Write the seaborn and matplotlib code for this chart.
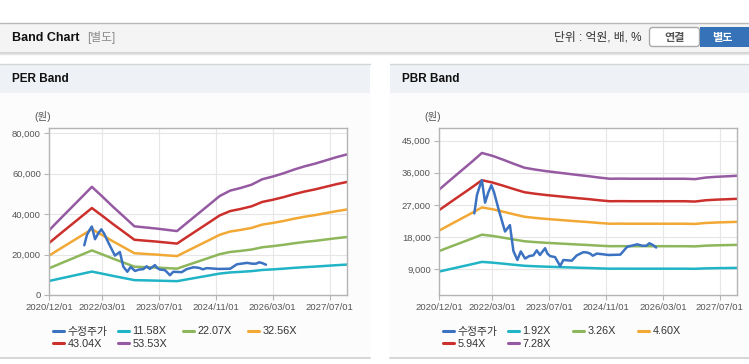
import matplotlib
matplotlib.use("Agg")
import matplotlib.pyplot as plt
from matplotlib.patches import Rectangle, FancyBboxPatch
from matplotlib.lines import Line2D
from matplotlib.legend import Legend
from matplotlib.ticker import FuncFormatter
import matplotlib.dates as mdates
import numpy as np
import pandas as pd
import seaborn as sns

# ---- data ----
band_dates = ['2020-12-01', '2021-03-01', '2021-06-01', '2021-09-01', '2021-12-01',
              '2022-03-01', '2022-06-01', '2022-09-01', '2022-12-01', '2023-03-01',
              '2023-06-01', '2023-09-01', '2023-12-01', '2024-03-01', '2024-06-01',
              '2024-09-01', '2024-12-01', '2025-03-01', '2025-06-01', '2025-09-01',
              '2025-12-01', '2026-03-01', '2026-06-01', '2026-09-01', '2026-12-01',
              '2027-03-01', '2027-06-01', '2027-09-01', '2027-11-28']
# EPS (원) behind the PER band
eps = [600, 700, 800, 900, 1000,
       910, 815, 725, 635, 625,
       615, 603, 591, 672, 753,
       834, 915, 965, 990, 1020,
       1070, 1095, 1125, 1160, 1190,
       1215, 1245, 1275, 1300]
# BPS (원) behind the PBR band
bps = [4300, 4650, 5000, 5350, 5710,
       5600, 5450, 5290, 5140, 5070,
       5010, 4960, 4910, 4860, 4815,
       4760, 4715, 4720, 4715, 4715,
       4715, 4715, 4715, 4715, 4700,
       4760, 4790, 4810, 4830]
per_multiples = ['11.58X', '22.07X', '32.56X', '43.04X', '53.53X']
pbr_multiples = ['1.92X', '3.26X', '4.60X', '5.94X', '7.28X']

price_dates = ['2021-09-27', '2021-10-20', '2021-11-15', '2021-12-01', '2021-12-28',
               '2022-01-25', '2022-02-20', '2022-03-15', '2022-04-25', '2022-06-17',
               '2022-07-29', '2022-08-28', '2022-10-01', '2022-10-30', '2022-12-06',
               '2023-01-10', '2023-02-15', '2023-03-16', '2023-04-12', '2023-05-26',
               '2023-06-15', '2023-07-08', '2023-08-20', '2023-10-02', '2023-10-30',
               '2024-01-10', '2024-02-22', '2024-04-19', '2024-05-20', '2024-06-15',
               '2024-07-08', '2024-08-12', '2024-11-20', '2025-03-01', '2025-04-28',
               '2025-07-24', '2025-09-05', '2025-10-10', '2025-11-05', '2025-12-05',
               '2026-01-02']
price = [24600, 29800, 32500, 33900, 27600,
         30500, 32500, 30500, 25500, 19500,
         21300, 14000, 11500, 13900, 11900,
         12600, 12800, 14200, 12900, 14800,
         13300, 12600, 12300, 9800, 11500,
         11300, 12800, 13700, 13600, 13300,
         12700, 13300, 12900, 13000, 15200,
         15900, 15500, 15500, 16200, 15700,
         15000]

x_ticks = ['2020-12-01', '2022-03-01', '2023-07-01', '2024-11-01', '2026-03-01', '2027-07-01']
price_label = '수정주가'
colors = ['#3b72c2', '#20b4c6', '#8eb65a', '#f2a834', '#cc302c', '#955aa2']


def band_frame(base, multiples):
    rows = []
    for d, p in zip(price_dates, price):
        rows.append((pd.Timestamp(d), p, price_label))
    for m in multiples:
        k = float(m.rstrip('X'))
        for d, b in zip(band_dates, base):
            rows.append((pd.Timestamp(d), b * k, m))
    return pd.DataFrame(rows, columns=['date', 'value', 'series'])


sns.set_style('white')
plt.rcParams['font.family'] = ['Liberation Sans', 'Noto Sans CJK KR']

W, H = 749, 364
fig = plt.figure(figsize=(W / 100, H / 100), dpi=100)

# page background drawn in pixel coordinates
bg = fig.add_axes([0, 0, 1, 1], zorder=0)
bg.set_xlim(0, W)
bg.set_ylim(H, 0)
bg.axis('off')

bg.add_patch(Rectangle((0, 22.5), W, 30, fc='#f4f4f4', ec='none'))
bg.plot([0, W], [22.5, 22.5], color='#b9b9b9', lw=1)
bg.plot([0, W], [52.5, 52.5], color='#cfcfcf', lw=1.2)
bg.plot([0, W], [53.8, 53.8], color='#e6e6e6', lw=1)
bg.text(12, 38, 'Band Chart', fontsize=9, fontweight='bold', color='#111111', va='center')
bg.text(87, 38, '[별도]', fontsize=8.5, color='#8a8a8a', va='center')
bg.text(642, 38, '단위 : 억원, 배, %', fontsize=8.5, color='#333333', va='center', ha='right')
bg.add_patch(FancyBboxPatch((649.5, 27.5), 50, 19, boxstyle='round,pad=0,rounding_size=3',
                            fc='white', ec='#aaaaaa', lw=1))
bg.text(674.5, 37.5, '연결', fontsize=8, fontweight='bold', color='#555555', va='center', ha='center')
bg.add_patch(Rectangle((700, 27), 52, 20, fc='#3572b8', ec='none'))
bg.text(722, 37.5, '별도', fontsize=8, fontweight='bold', color='white', va='center', ha='center')

for x0, x1, title in [(0, 370, 'PER Band'), (390, W, 'PBR Band')]:
    bg.add_patch(Rectangle((x0, 64), x1 - x0, 28.5, fc='#eef1f6', ec='none'))
    bg.add_patch(Rectangle((x0, 92.5), x1 - x0, 265.5, fc='#fcfcfc', ec='none'))
    bg.plot([x0, x1], [64, 64], color='#d4d4d4', lw=1)
    bg.plot([x0, x1], [358.3, 358.3], color='#d0d0d0', lw=1.2)
    bg.text(x0 + 12, 79.5, title, fontsize=8.5, fontweight='bold', color='#111111', va='center')


def px_axes(left, top, right, bottom):
    return fig.add_axes([left / W, 1 - bottom / H, (right - left) / W, (bottom - top) / H], zorder=2)


def draw_panel(ax, df, multiples, ylim, yticks, xleft):
    palette = dict(zip([price_label] + multiples, colors))
    order = multiples + [price_label]
    sns.lineplot(data=df, x='date', y='value', hue='series', hue_order=order, palette=palette,
                 estimator=None, linewidth=1.8, legend=False, ax=ax)
    ax.set_facecolor('white')
    ax.set_xlim(pd.Timestamp('2020-12-01'), pd.Timestamp('2027-11-28'))
    ax.set_ylim(*ylim)
    ax.set_yticks(yticks)
    ax.set_xticks(pd.to_datetime(x_ticks))
    ax.xaxis.set_major_formatter(mdates.DateFormatter('%Y/%m/%d'))
    ax.yaxis.set_major_formatter(FuncFormatter(lambda v, _: f'{v:,.0f}'))
    ax.grid(True, color='#e6e6e6', lw=0.8)
    ax.set_axisbelow(True)
    for s in ax.spines.values():
        s.set_color('#b4b4b4')
        s.set_linewidth(1)
    ax.tick_params(axis='both', labelsize=6.8, colors='#555555', length=3.5, width=0.8,
                   color='#b4b4b4', pad=2.5, direction='out', left=True, bottom=True)
    ax.set_xlabel('')
    ax.set_ylabel('')
    bg.text(xleft - 15, 117, '(원)', fontsize=7.5, color='#555555', va='center')
    # legend in four columns
    labels = [price_label] + multiples
    for c in range(4):
        idx = [i for i in (c, c + 4) if i < len(labels)]
        hs = [Line2D([], [], color=colors[i], lw=2.2) for i in idx]
        leg = Legend(bg, hs, [labels[i] for i in idx], loc='upper left',
                     bbox_to_anchor=(xleft + 4 + 65 * c, 326.5), bbox_transform=bg.transData,
                     frameon=False, fontsize=7.8, handlelength=1.0, handletextpad=0.3,
                     labelspacing=0.22, borderpad=0, borderaxespad=0)
        for t in leg.get_texts():
            t.set_color('#333333')
        bg.add_artist(leg)


ax1 = px_axes(49.3, 128.3, 347, 295)
draw_panel(ax1, band_frame(eps, per_multiples), per_multiples, (0, 82500),
           [0, 20000, 40000, 60000, 80000], 49.3)

ax2 = px_axes(439.3, 128.3, 737.3, 294.5)
draw_panel(ax2, band_frame(bps, pbr_multiples), pbr_multiples, (1800, 48500),
           [9000, 18000, 27000, 36000, 45000], 439.3)

fig.savefig('out.png', dpi=100, facecolor='white')
